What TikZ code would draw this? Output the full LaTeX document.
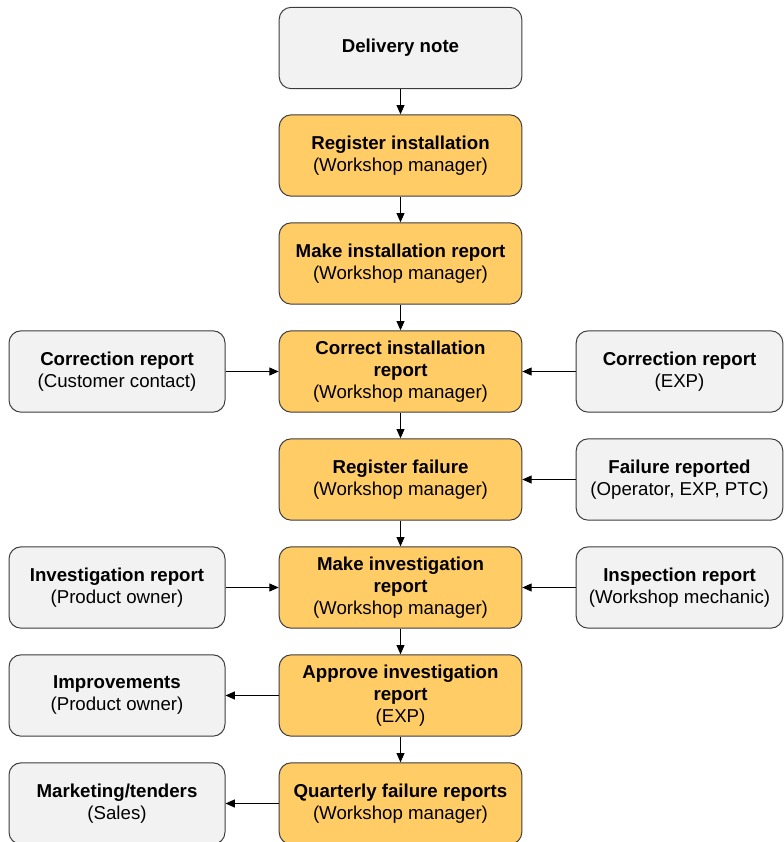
\documentclass[tikz,border=0pt]{standalone}
\usepackage{fontspec}
\setmainfont{Liberation Sans}
\usetikzlibrary{arrows.meta, positioning}
\definecolor{taskfill}{RGB}{255,204,102}
\definecolor{docfill}{RGB}{242,242,242}
\definecolor{boxline}{RGB}{60,60,60}
\tikzset{
    box/.style={draw=boxline, line width=0.75pt, rounded corners=9pt, align=center, inner sep=0pt,
        font=\fontsize{14}{16.5}\selectfont},
    task/.style={box, fill=taskfill, minimum width=182pt, minimum height=61pt},
    leftdoc/.style={box, fill=docfill, minimum width=162pt, minimum height=61pt},
    rightdoc/.style={box, fill=docfill, minimum width=155pt, minimum height=61pt},
    flow/.style={-{Triangle[length=7pt, width=6pt]}, line width=0.75pt}
}

\begin{document}
\begin{tikzpicture}[x=0.75pt, y=-0.75pt]
    \useasboundingbox (0,0) rectangle (784,842);
    \clip (0,0) rectangle (784,842);

    \node[leftdoc, minimum width=182pt] (delivery) at (400.5,48) {\textbf{Delivery note}};
    \node[task] (reginst) at (400.5,155.5) {\textbf{Register installation}\\(Workshop manager)};
    \node[task] (makeinst) at (400.5,263.5) {\textbf{Make installation report}\\(Workshop manager)};
    \node[task] (corrinst) at (400.5,371.5) {\textbf{Correct installation}\\\textbf{report}\\(Workshop manager)};
    \node[task] (regfail) at (400.5,479.5) {\textbf{Register failure}\\(Workshop manager)};
    \node[task] (makeinv) at (400.5,587.5) {\textbf{Make investigation}\\\textbf{report}\\(Workshop manager)};
    \node[task] (apprinv) at (400.5,695.5) {\textbf{Approve investigation}\\\textbf{report}\\(EXP)};
    \node[task] (quarterly) at (400.5,803.5) {\textbf{Quarterly failure reports}\\(Workshop manager)};

    \node[leftdoc] (corrcust) at (117,371.5) {\textbf{Correction report}\\(Customer contact)};
    \node[leftdoc] (invrep) at (117,587.5) {\textbf{Investigation report}\\(Product owner)};
    \node[leftdoc] (improve) at (117,695.5) {\textbf{Improvements}\\(Product owner)};
    \node[leftdoc] (marketing) at (117,803.5) {\textbf{Marketing/tenders}\\(Sales)};

    \node[rightdoc] (correxp) at (679.5,371.5) {\textbf{Correction report}\\(EXP)};
    \node[rightdoc] (failrep) at (679.5,479.5) {\textbf{Failure reported}\\(Operator, EXP, PTC)};
    \node[rightdoc] (insprep) at (679.5,587.5) {\textbf{Inspection report}\\(Workshop mechanic)};

    \draw[flow] (delivery) -- (reginst);
    \draw[flow] (reginst) -- (makeinst);
    \draw[flow] (makeinst) -- (corrinst);
    \draw[flow] (corrinst) -- (regfail);
    \draw[flow] (regfail) -- (makeinv);
    \draw[flow] (makeinv) -- (apprinv);
    \draw[flow] (apprinv) -- (quarterly);

    \draw[flow] (corrcust) -- (corrinst);
    \draw[flow] (invrep) -- (makeinv);
    \draw[flow] (apprinv) -- (improve);
    \draw[flow] (quarterly) -- (marketing);

    \draw[flow] (correxp) -- (corrinst);
    \draw[flow] (failrep) -- (regfail);
    \draw[flow] (insprep) -- (makeinv);
\end{tikzpicture}
\end{document}
